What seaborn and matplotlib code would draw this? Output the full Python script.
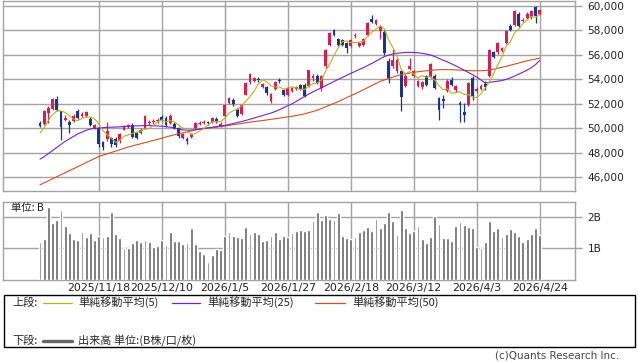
import seaborn as sns
import matplotlib.pyplot as plt
import matplotlib.patches as mpatches
import matplotlib.lines as mlines
import pandas as pd
import numpy as np

# trading days shown (TSE calendar, 2025/10/28 - 2026/4/24)
jp_holidays = ['2025-11-03', '2025-11-24', '2025-12-31', '2026-01-01', '2026-01-02',
               '2026-01-12', '2026-02-11', '2026-02-23', '2026-03-20']
tick_dates = ['2025/11/18', '2025/12/10', '2026/1/5', '2026/1/27',
              '2026/2/18', '2026/3/12', '2026/4/3', '2026/4/24']

opens = [50440, 50380, 51260, 51550, 52400, 51400, 50700, 50550, 50570, 51400,
         51000, 50980, 50800, 50050, 50050, 48900, 49100, 49200, 49150, 48950,
         49900, 50100, 50300, 49600, 49620, 50030, 50450, 50500, 50600, 50930,
         50850, 50440, 50400, 50050, 49250, 49100, 49300, 50050, 50350, 50450,
         50450, 50500, 50800, 50200, 50980, 52050, 52300, 51550, 51200, 52750,
         53750, 53850, 54050, 53400, 53350, 52200, 53250, 53950, 53100, 52750,
         53050, 53200, 53500, 53550, 53480, 54100, 54300, 53290, 55050, 56820,
         57990, 57280, 57170, 56960, 56740, 57500, 56690, 56820, 57640, 58910,
         58530, 57900, 57830, 55520, 55050, 54650, 54650, 53480, 54840, 54290,
         53480, 53370, 54240, 54190, 54290, 52470, 52420, 53050, 53970, 53150,
         52070, 51300, 51930, 54100, 53020, 53210, 53640, 54300, 56200, 56200,
         56280, 56960, 58370, 58450, 59350, 58750, 59000, 59080, 59890, 59350]
highs = [50570, 51520, 51800, 52450, 52650, 51450, 51100, 50700, 51200, 51600,
         51300, 51450, 50900, 50400, 50100, 49000, 50550, 49300, 49300, 49650,
         50300, 50400, 50450, 49700, 50000, 51100, 50700, 50750, 50850, 51100,
         51000, 51150, 50500, 50100, 49650, 49300, 49650, 50550, 50600, 50650,
         50600, 50950, 50900, 50500, 52000, 52600, 52500, 51650, 52000, 53800,
         54550, 54200, 54200, 53700, 53450, 52900, 53850, 54100, 53200, 53400,
         53400, 53450, 53650, 53700, 54800, 54450, 54400, 54350, 56450, 57850,
         58100, 57400, 57300, 57050, 57250, 57750, 57050, 57400, 58700, 59270,
         58950, 58450, 57990, 55700, 56470, 55700, 54800, 54400, 55740, 54750,
         53950, 53850, 54350, 55350, 54400, 52600, 52750, 54000, 54190, 53550,
         52200, 52070, 53800, 54240, 53350, 53600, 53830, 56450, 56300, 57050,
         56650, 58000, 58500, 59650, 59450, 59000, 59450, 59650, 60000, 59750]
lows = [50110, 50300, 50450, 51500, 51450, 49050, 50600, 49650, 50500, 50750,
        50900, 50900, 50200, 49950, 48500, 48250, 49000, 48500, 48500, 48850,
        49850, 50000, 49200, 49150, 49550, 49950, 50300, 50350, 50450, 50600,
        50150, 50400, 49950, 49250, 49150, 48700, 49200, 49950, 50250, 50350,
        50300, 50450, 50450, 50100, 50900, 51950, 51850, 50950, 51100, 52700,
        53650, 53750, 53800, 53300, 52750, 52100, 53150, 53700, 52650, 52650,
        52950, 53100, 53100, 52550, 53400, 53830, 53600, 53020, 54950, 56750,
        57550, 56750, 56750, 56140, 56650, 57400, 56600, 56750, 57550, 58600,
        58450, 57280, 56000, 53700, 54950, 54550, 51400, 53350, 54750, 54200,
        53350, 53250, 53450, 54100, 53200, 50710, 51660, 52950, 53450, 53000,
        50490, 50490, 51800, 52340, 52900, 53100, 53150, 54200, 55700, 56100,
        56200, 56850, 57950, 58350, 58300, 58650, 58900, 58950, 58590, 59250]
closes = [50220, 51390, 51660, 52400, 51500, 50150, 50850, 50300, 50980, 50850,
          51150, 51350, 50300, 50300, 48700, 48500, 49750, 48700, 48650, 49550,
          50200, 50250, 49300, 49250, 49890, 51030, 50520, 50550, 50680, 50720,
          50250, 50980, 50050, 49350, 49550, 49000, 49550, 50450, 50450, 50500,
          50420, 50850, 50550, 50400, 51900, 52450, 51950, 51050, 51900, 53700,
          54450, 54100, 53950, 53600, 52850, 52800, 53750, 53850, 52750, 53300,
          53300, 53350, 53200, 52650, 54730, 54300, 53700, 54240, 56360, 57770,
          57640, 56820, 56820, 56550, 57170, 57600, 56960, 57280, 58590, 58700,
          58860, 58310, 56140, 54100, 55600, 55600, 52600, 54290, 55050, 54640,
          53830, 53750, 53560, 55270, 53290, 51520, 52200, 53830, 53560, 53420,
          51930, 51120, 53700, 52610, 53210, 53430, 53370, 56360, 55820, 56960,
          56550, 57910, 58040, 59540, 58370, 58850, 59350, 59540, 59130, 59670]
prev_closes = [49300, 48600, 50100, 49900]

ma25 = [47500, 47700, 47950, 48200, 48450, 48700, 48950, 49150, 49350, 49550,
        49700, 49850, 49950, 50000, 50030, 50060, 50090, 50100, 50110, 50130,
        50150, 50180, 50200, 50210, 50220, 50230, 50230, 50220, 50200, 50180,
        50150, 50100, 50020, 49950, 49880, 49850, 49860, 49900, 49950, 50000,
        50050, 50100, 50150, 50200, 50250, 50320, 50400, 50480, 50560, 50650,
        50750, 50850, 50950, 51050, 51150, 51250, 51380, 51520, 51680, 51850,
        52000, 52200, 52400, 52600, 52800, 52980, 53150, 53300, 53480, 53650,
        53820, 54000, 54150, 54320, 54480, 54640, 54800, 54950, 55120, 55300,
        55480, 55680, 55850, 55980, 56060, 56120, 56160, 56190, 56200, 56190,
        56160, 56120, 56060, 55980, 55860, 55700, 55560, 55420, 55260, 55100,
        54920, 54740, 54560, 54380, 54180, 53950, 53700, 53750, 53800, 53850,
        53900, 54000, 54120, 54260, 54420, 54580, 54750, 54950, 55200, 55550]
ma50 = [45400, 45570, 45730, 45900, 46060, 46230, 46390, 46560, 46720, 46890,
        47050, 47220, 47380, 47550, 47710, 47820, 47930, 48040, 48150, 48260,
        48370, 48480, 48570, 48660, 48750, 48840, 48930, 49020, 49110, 49200,
        49300, 49400, 49480, 49560, 49640, 49720, 49800, 49880, 49940, 49980,
        50020, 50060, 50100, 50150, 50200, 50250, 50300, 50350, 50400, 50460,
        50510, 50560, 50600, 50640, 50690, 50740, 50790, 50840, 50890, 50940,
        50990, 51050, 51110, 51190, 51280, 51380, 51480, 51620, 51760, 51900,
        52040, 52180, 52340, 52500, 52660, 52820, 52980, 53150, 53320, 53490,
        53660, 53830, 53950, 54070, 54180, 54290, 54380, 54450, 54510, 54570,
        54620, 54660, 54700, 54730, 54760, 54780, 54790, 54790, 54780, 54770,
        54750, 54730, 54710, 54700, 54700, 54700, 54720, 54760, 54820, 54900,
        54980, 55060, 55150, 55240, 55330, 55420, 55510, 55590, 55660, 55730]

# volume in billions of shares
volume = [1.21, 1.29, 2.31, 1.79, 1.89, 2.21, 1.71, 1.49, 1.29, 1.26,
          1.52, 1.36, 1.48, 1.26, 1.39, 1.36, 1.39, 2.15, 1.45, 1.33,
          1.00, 1.00, 1.17, 1.26, 1.20, 1.26, 1.20, 1.04, 1.07, 1.26,
          1.10, 1.52, 1.23, 1.23, 1.14, 1.17, 1.64, 1.14, 0.92, 0.82,
          0.57, 0.79, 0.98, 0.95, 1.39, 1.52, 1.39, 1.36, 1.33, 1.67,
          1.45, 1.52, 1.45, 1.23, 1.26, 1.39, 1.52, 1.29, 1.39, 1.36,
          1.48, 1.55, 1.58, 1.55, 1.58, 1.86, 2.15, 1.89, 2.05, 1.93,
          1.89, 2.12, 1.39, 1.33, 1.29, 1.36, 1.52, 1.58, 1.67, 1.55,
          1.93, 1.64, 1.80, 2.15, 1.86, 1.42, 2.21, 1.64, 1.48, 1.55,
          1.71, 1.29, 1.17, 1.36, 2.02, 1.77, 1.33, 1.33, 1.23, 1.71,
          1.83, 1.74, 1.67, 1.64, 1.04, 1.01, 1.20, 1.86, 1.55, 1.64,
          1.36, 1.45, 1.61, 1.52, 1.39, 1.20, 1.29, 1.45, 1.64, 1.42]

dates = pd.bdate_range('2025-10-28', '2026-04-24', freq='C', holidays=jp_holidays)
df = pd.DataFrame({'date': dates[:len(closes)], 'open': opens, 'high': highs,
                   'low': lows, 'close': closes, 'ma25': ma25, 'ma50': ma50,
                   'volume': volume})
df['idx'] = np.arange(len(df))
df['ma5'] = pd.Series(prev_closes + closes).rolling(5).mean().iloc[4:].to_numpy()
date_str = [f"{d.year}/{d.month}/{d.day}" for d in df['date']]
tick_pos = [date_str.index(t) for t in tick_dates]

W, H = 638, 362
GRID = '#a3a3a3'
RED = '#d81e50'
BLUE = '#1e3580'
MA5_C, MA25_C, MA50_C = '#bab21c', '#7a1fd0', '#d2501e'
jp_font = ['Noto Sans CJK JP', 'DejaVu Sans']

sns.set_style('white')
plt.rcParams['font.family'] = ['DejaVu Sans']

fig = plt.figure(figsize=(W / 100, H / 100), dpi=100)


def fx(x):
    return x / W


def fy(y):
    return 1 - y / H


ax1 = fig.add_axes([fx(3), fy(190.7), fx(572), 190 / H])
ax2 = fig.add_axes([fx(3), fy(280), fx(572), 78.3 / H])

# candles
up = df['close'] >= df['open']
colors = np.where(up, RED, BLUE)
ax1.vlines(df['idx'], df['low'], df['high'], colors=colors, lw=0.9, zorder=3)
body = np.maximum((df['close'] - df['open']).abs(), 70)
ax1.bar(df['idx'], body, bottom=np.minimum(df['open'], df['close']),
        width=0.68, color=colors, lw=0, zorder=4)

sns.lineplot(data=df, x='idx', y='ma50', ax=ax1, color=MA50_C, lw=0.8, zorder=5)
sns.lineplot(data=df, x='idx', y='ma25', ax=ax1, color=MA25_C, lw=0.8, zorder=5)
sns.lineplot(data=df, x='idx', y='ma5', ax=ax1, color=MA5_C, lw=0.8, zorder=6)

xlim = (-8.81, 127.4)
ax1.set_xlim(*xlim)
ax1.set_ylim(44924, 60408)
ax1.set_yticks(range(46000, 60001, 2000))
ax1.set_yticklabels([f"{v:,}" for v in range(46000, 60001, 2000)])
ax1.set_xticks(tick_pos)
ax1.set_xticklabels([])

# volume
sns.barplot(x=df['idx'], y=df['volume'], ax=ax2, color='#666666',
            saturation=1, width=0.68, native_scale=True, zorder=3)
ax2.set_xlim(*xlim)
ax2.set_ylim(0, 2.48)
ax2.set_yticks([1, 2])
ax2.set_yticklabels(['1B', '2B'])
ax2.set_xticks(tick_pos)
ax2.set_xticklabels(tick_dates)

for ax in (ax1, ax2):
    ax.set_xlabel('')
    ax.set_ylabel('')
    ax.yaxis.tick_right()
    ax.grid(True, color=GRID, lw=1, zorder=0)
    ax.set_axisbelow(True)
    for s in ax.spines.values():
        s.set_color(GRID)
        s.set_linewidth(1)
    ax.tick_params(axis='y', right=True, length=5, width=1, color=GRID, pad=4,
                   labelsize=7.6, labelcolor='#222222')
    ax.tick_params(axis='x', bottom=False, length=0, pad=2, labelsize=7.9,
                   labelcolor='#222222')

ax2.text(fx(8) / fx(572), 1 - (208 - 201.7) / 78.3, '単位: B', transform=ax2.transAxes,
         ha='left', va='center', fontsize=7.5, family=jp_font, color='#222222')

# legend box
fig.patches.append(mpatches.Rectangle((fx(3.5), fy(346.7)), fx(631.5), 51.7 / H,
                                      transform=fig.transFigure, fill=False,
                                      ec='black', lw=1))
leg_y1, leg_y2 = 302.5, 340.5
fig.text(fx(12), fy(leg_y1), '上段:', fontsize=8, family=jp_font, va='center')
fig.text(fx(12), fy(leg_y2), '下段:', fontsize=8, family=jp_font, va='center')
samples = [(43, 72, 78, MA5_C, '単純移動平均(5)'),
           (172, 200, 207, MA25_C, '単純移動平均(25)'),
           (315, 345, 352, MA50_C, '単純移動平均(50)')]
for x0, x1, xt, c, label in samples:
    fig.lines.append(mlines.Line2D([fx(x0), fx(x1)], [fy(leg_y1), fy(leg_y1)],
                                   transform=fig.transFigure, color=c, lw=0.9))
    fig.text(fx(xt), fy(leg_y1), label, fontsize=8, family=jp_font, va='center')
fig.lines.append(mlines.Line2D([fx(43), fx(72)], [fy(leg_y2), fy(leg_y2)],
                               transform=fig.transFigure, color='#666666', lw=2.4))
fig.text(fx(78), fy(leg_y2), '出来高 単位:(B株/口/枚)', fontsize=8, family=jp_font,
         va='center')

fig.text(fx(619), fy(356), '(c)Quants Research Inc.', fontsize=7.5, ha='right',
         va='center', color='#444444')

fig.savefig('out.png', dpi=100)
